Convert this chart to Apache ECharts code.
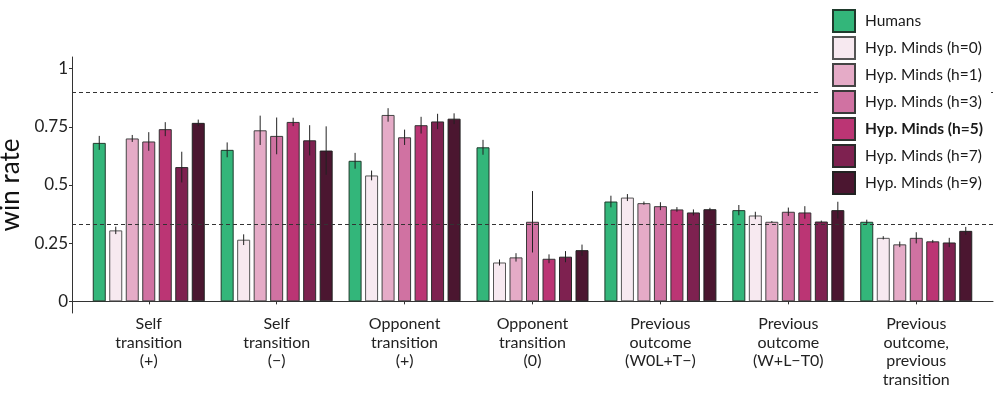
<!DOCTYPE html>
<html>
<head>
<meta charset="utf-8">
<script src="https://cdn.jsdelivr.net/npm/echarts@6/dist/echarts.min.js"></script>
<style>html,body{margin:0;padding:0;background:#fff;}#c{width:1000px;height:393px;}</style>
</head>
<body>
<div id="c"></div>
<script>
const categories = ['Self\ntransition\n(+)', 'Self\ntransition\n(\u2212)', 'Opponent\ntransition\n(+)', 'Opponent\ntransition\n(0)', 'Previous\noutcome\n(W0L+T\u2212)', 'Previous\noutcome\n(W+L\u2212T0)', 'Previous\noutcome,\nprevious\ntransition'];
const groupPositions = [1, 2, 3, 4, 5, 6, 7];
const seriesNames = ['Humans', 'Hyp. Minds (h=0)', 'Hyp. Minds (h=1)', 'Hyp. Minds (h=3)', 'Hyp. Minds (h=5)', 'Hyp. Minds (h=7)', 'Hyp. Minds (h=9)'];
const humans = [0.681, 0.651, 0.604, 0.662, 0.429, 0.392, 0.342];
const h0 = [0.305, 0.265, 0.541, 0.167, 0.446, 0.369, 0.273];
const h1 = [0.700, 0.735, 0.801, 0.189, 0.422, 0.342, 0.245];
const h3 = [0.687, 0.711, 0.705, 0.342, 0.409, 0.385, 0.273];
const h5 = [0.740, 0.771, 0.757, 0.183, 0.395, 0.382, 0.258];
const h7 = [0.577, 0.692, 0.773, 0.192, 0.382, 0.343, 0.253];
const h9 = [0.767, 0.648, 0.785, 0.220, 0.396, 0.392, 0.303];
const humansErr = [0.030, 0.032, 0.034, 0.032, 0.025, 0.022, 0.009];
const h0Err = [0.016, 0.023, 0.021, 0.013, 0.015, 0.016, 0.007];
const h1Err = [0.015, 0.063, 0.029, 0.018, 0.007, 0.003, 0.012];
const h3Err = [0.040, 0.079, 0.033, 0.132, 0.017, 0.018, 0.024];
const h5Err = [0.030, 0.018, 0.036, 0.019, 0.010, 0.027, 0.006];
const h7Err = [0.066, 0.065, 0.033, 0.024, 0.013, 0.004, 0.020];
const h9Err = [0.014, 0.104, 0.023, 0.024, 0.006, 0.036, 0.017];
const yTicks = [0, 0.25, 0.5, 0.75, 1];
const refLines = [0.9, 1 / 3];

const values = [humans, h0, h1, h3, h5, h7, h9];
const errors = [humansErr, h0Err, h1Err, h3Err, h5Err, h7Err, h9Err];
const colors = ['#33b67a', '#f7e9f0', '#e5abc7', '#d072a2', '#bb3574', '#7e2150', '#4b1630'];
const borderColors = ['#1f3a2c', '#555555', '#444444', '#3a3a3a', '#333333', '#2a2a2a', '#222222'];

const BAR_W = 13, BAR_GAP_PX = 3.5;
const FONT = 'Lato';

const series = [];
values.forEach((vals, i) => {
  series.push({
    name: seriesNames[i],
    type: 'bar',
    barWidth: BAR_W,
    barGap: (BAR_GAP_PX / BAR_W * 100) + '%',
    data: vals.map((v, k) => [groupPositions[k], v]),
    itemStyle: { color: colors[i], borderColor: borderColors[i], borderWidth: 1 },
    emphasis: { disabled: true },
    animation: false,
    z: 2,
    markLine: i === 0 ? {
      silent: true,
      symbol: 'none',
      label: { show: false },
      lineStyle: { color: '#333', type: [4, 3], width: 1 },
      data: refLines.map(v => ({ yAxis: v })),
      animation: false,
      z: 5
    } : undefined
  });
});
values.forEach((vals, i) => {
  const offset = (i - 3) * (BAR_W + BAR_GAP_PX);
  series.push({
    name: seriesNames[i] + ' err',
    type: 'custom',
    data: vals.map((v, k) => [groupPositions[k], v, errors[i][k]]),
    encode: { x: 0, y: 1 },
    z: 4,
    animation: false,
    silent: true,
    renderItem: function (params, api) {
      const x = api.value(0), y = api.value(1), e = api.value(2);
      const lo = api.coord([x, y - e]);
      const hi = api.coord([x, y + e]);
      return {
        type: 'line',
        shape: { x1: lo[0] + offset, y1: lo[1], x2: hi[0] + offset, y2: hi[1] },
        style: { stroke: '#222', lineWidth: 1 }
      };
    }
  });
});

const chart = echarts.init(document.getElementById('c'), null, { renderer: 'canvas' });
chart.setOption({
  animation: false,
  backgroundColor: '#fff',
  textStyle: { fontFamily: FONT },
  grid: { left: 72, right: 7, top: 57, bottom: 80, containLabel: false, outerBoundsMode: 'none' },
  legend: {
    orient: 'vertical',
    left: 818,
    top: 0,
    padding: [9, 8, 4, 14],
    backgroundColor: '#fff',
    icon: 'rect',
    itemWidth: 22,
    itemHeight: 22,
    itemGap: 3,
    z: 10,
    textStyle: { fontFamily: FONT, fontSize: 15.5, lineHeight: 20, color: '#1a1a1a', padding: [0, 0, 0, 5] },
    data: seriesNames.map(n => n === 'Hyp. Minds (h=5)' ? { name: n, textStyle: { fontWeight: 'bold' } } : { name: n }),
    selectedMode: false
  },
  xAxis: {
    type: 'value',
    min: 0.4,
    max: 7.6,
    splitLine: { show: false },
    axisLine: { show: true, lineStyle: { color: '#333', width: 1 } },
    axisTick: { show: true, length: 3, lineStyle: { color: '#333' }, customValues: groupPositions },
    axisLabel: {
      customValues: groupPositions,
      formatter: v => categories[Math.round(v) - 1] || '',
      fontFamily: FONT, fontSize: 16, color: '#222', lineHeight: 18.5, margin: 2
    }
  },
  yAxis: {
    type: 'value',
    min: -0.05,
    max: 1.05,
    name: 'win rate',
    nameLocation: 'middle',
    nameGap: 40,
    nameRotate: 90,
    nameTextStyle: { fontFamily: FONT, fontSize: 26, color: '#111' },
    splitLine: { show: false },
    axisLine: { show: true, lineStyle: { color: '#333', width: 1 } },
    axisTick: { show: true, length: 3, lineStyle: { color: '#333' }, customValues: yTicks },
    axisLabel: {
      customValues: yTicks,
      formatter: v => String(Math.round(v * 100) / 100),
      fontFamily: FONT, fontSize: 17, color: '#222', margin: 4
    }
  },
  series: series
});
</script>
</body>
</html>
